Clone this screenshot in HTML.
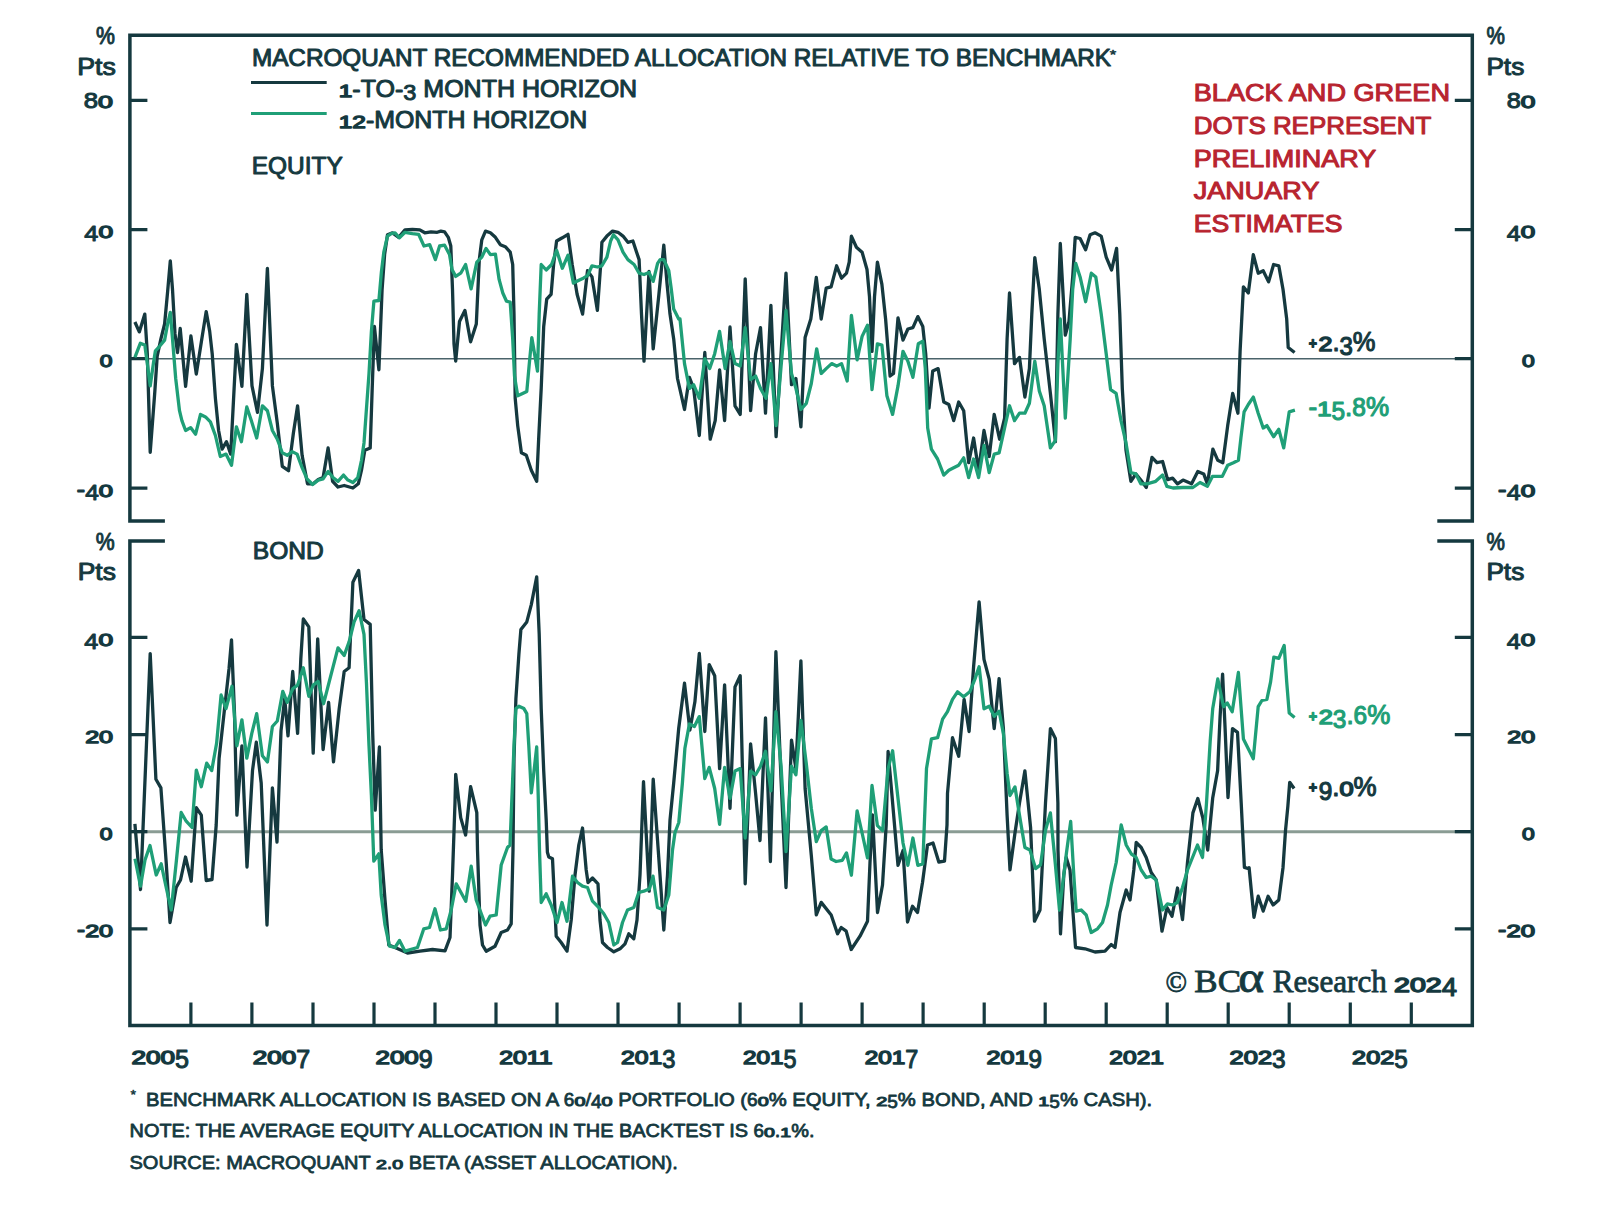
<!DOCTYPE html>
<html lang="en"><head><meta charset="utf-8"><title>MacroQuant Recommended Allocation Relative To Benchmark</title>
<style>
html,body{margin:0;padding:0;background:#fff;}
body{width:1600px;height:1211px;overflow:hidden;}
svg{display:block;}
text{white-space:pre;}
</style></head>
<body>
<svg width="1600" height="1211" viewBox="0 0 1600 1211">
<rect width="1600" height="1211" fill="#ffffff"/>
<path d="M129.9 358.8H1472.3" stroke="#4a636a" stroke-width="1.6"/>
<path d="M129.9 831.7H1472.3" stroke="#8a9c94" stroke-width="3"/>
<g fill="none" stroke="#15393f" stroke-width="3.5" stroke-linecap="butt" stroke-linejoin="miter">
<path d="M164.9 520.9 H129.9 V35.2 H1472.3 V520.9 H1437.3"/>
<path d="M164.9 541.0 H129.9 V1025.6 H1472.3 V541.0 H1437.3"/>
</g>
<g stroke="#15393f" stroke-width="3.2">
<path d="M129.9 100.3h17.5M1472.3 100.3h-17.5"/>
<path d="M129.9 229.6h17.5M1472.3 229.6h-17.5"/>
<path d="M129.9 358.7h17.5M1472.3 358.7h-17.5"/>
<path d="M129.9 488.2h17.5M1472.3 488.2h-17.5"/>
<path d="M129.9 637.4h17.5M1472.3 637.4h-17.5"/>
<path d="M129.9 734.6h17.5M1472.3 734.6h-17.5"/>
<path d="M129.9 831.7h17.5M1472.3 831.7h-17.5"/>
<path d="M129.9 928.8h17.5M1472.3 928.8h-17.5"/>
<path d="M190.9 1002.5V1025.6"/>
<path d="M251.9 1002.5V1025.6"/>
<path d="M313.0 1002.5V1025.6"/>
<path d="M374.0 1002.5V1025.6"/>
<path d="M435.0 1002.5V1025.6"/>
<path d="M496.0 1002.5V1025.6"/>
<path d="M557.0 1002.5V1025.6"/>
<path d="M618.0 1002.5V1025.6"/>
<path d="M679.1 1002.5V1025.6"/>
<path d="M740.1 1002.5V1025.6"/>
<path d="M801.1 1002.5V1025.6"/>
<path d="M862.1 1002.5V1025.6"/>
<path d="M923.1 1002.5V1025.6"/>
<path d="M984.2 1002.5V1025.6"/>
<path d="M1045.2 1002.5V1025.6"/>
<path d="M1106.2 1002.5V1025.6"/>
<path d="M1167.2 1002.5V1025.6"/>
<path d="M1228.2 1002.5V1025.6"/>
<path d="M1289.2 1002.5V1025.6"/>
<path d="M1350.3 1002.5V1025.6"/>
<path d="M1411.3 1002.5V1025.6"/>
</g>
<path d="M251 82.5H326.7" stroke="#15393f" stroke-width="3"/>
<path d="M251 113.6H326.7" stroke="#1f9f77" stroke-width="3"/>
<path d="M134.9 322.0 L139.3 331.9 L144.8 314.1 L147.3 353.7 L150.2 452.3 L154.7 393.4 L157.2 356.2 L160.9 338.9 L164.6 324.0 L167.6 291.8 L170.3 260.8 L172.5 289.3 L175.0 333.9 L177.5 352.5 L180.2 328.5 L185.6 386.4 L190.9 335.9 L196.3 374.0 L201.8 338.9 L206.2 311.6 L209.7 331.4 L212.2 353.7 L215.4 398.3 L218.6 430.5 L222.1 449.1 L226.5 441.7 L230.7 454.1 L236.4 344.3 L241.9 386.4 L246.8 294.3 L252.0 385.9 L257.5 412.4 L262.4 368.6 L267.4 268.3 L272.4 385.9 L277.3 423.1 L282.3 466.4 L288.5 470.7 L293.4 433.0 L297.6 405.8 L302.1 455.3 L307.5 483.8 L313.2 483.8 L318.2 479.6 L323.1 477.6 L328.1 447.9 L332.6 481.3 L338.0 487.0 L344.2 485.5 L352.9 488.0 L358.3 483.8 L361.5 470.2 L364.8 450.3 L370.2 447.9 L372.2 388.4 L374.4 326.5 L378.9 369.8 L382.1 289.3 L384.6 254.6 L387.5 234.8 L392.5 232.8 L398.7 237.3 L405.0 229.9 L412.4 229.4 L419.8 229.9 L424.8 232.8 L431.0 231.8 L437.2 232.3 L440.9 231.1 L444.6 231.8 L448.3 237.3 L450.8 246.0 L452.5 289.3 L454.0 343.8 L455.7 361.2 L459.5 321.5 L464.9 310.4 L470.6 341.8 L476.3 324.0 L479.3 259.6 L481.8 239.8 L485.5 231.1 L490.4 232.8 L495.4 237.3 L500.3 244.7 L505.3 246.7 L510.2 252.2 L512.7 264.5 L514.0 314.1 L515.2 398.3 L517.7 425.6 L521.4 452.8 L526.3 455.3 L531.3 470.2 L536.7 481.3 L538.7 438.0 L541.2 388.4 L543.7 326.5 L546.7 299.2 L551.1 294.3 L553.6 264.5 L556.6 241.0 L562.3 237.8 L568.0 234.3 L572.2 264.5 L577.1 294.3 L582.6 314.1 L587.5 270.7 L592.0 276.9 L597.4 310.4 L600.7 264.5 L601.9 242.3 L606.9 236.1 L612.6 231.1 L618.0 232.3 L623.0 236.1 L627.9 242.3 L632.9 241.0 L636.6 252.2 L639.1 259.6 L641.5 314.1 L644.0 361.2 L649.0 271.5 L653.2 348.8 L658.9 294.3 L663.8 245.2 L667.1 284.4 L670.0 314.1 L673.7 338.9 L677.5 378.5 L684.5 409.5 L689.4 377.3 L693.6 388.4 L699.3 435.5 L704.8 352.5 L710.2 439.2 L715.2 420.6 L719.6 369.8 L724.6 420.6 L730.0 327.0 L735.0 405.8 L740.2 414.4 L745.2 278.9 L750.6 410.7 L755.6 353.7 L760.5 327.7 L765.5 413.2 L770.9 305.4 L776.1 436.7 L781.1 353.7 L786.0 273.2 L791.5 384.7 L795.9 378.5 L800.9 426.8 L805.1 337.6 L810.8 319.0 L816.3 277.4 L821.2 319.0 L826.2 288.1 L831.1 286.8 L836.6 265.8 L841.5 278.2 L846.5 273.2 L849.2 262.1 L851.4 236.1 L856.4 247.2 L862.1 252.2 L867.0 269.5 L869.5 296.8 L872.0 351.3 L874.5 296.8 L877.4 262.1 L881.9 284.4 L885.6 319.0 L890.1 376.0 L893.5 373.5 L898.0 317.8 L903.0 340.1 L907.9 329.0 L912.9 327.7 L917.8 316.6 L922.8 326.5 L925.7 353.7 L929.0 408.2 L932.7 371.1 L938.1 368.6 L943.8 402.0 L948.8 404.5 L953.7 420.6 L958.7 402.0 L963.7 410.7 L968.7 462.7 L973.6 438.0 L978.6 470.2 L984.0 430.5 L989.2 456.5 L994.2 414.4 L999.6 439.2 L1004.6 418.1 L1007.1 338.9 L1009.5 293.0 L1014.5 363.6 L1019.5 357.4 L1024.9 397.1 L1029.4 368.6 L1031.8 314.1 L1034.8 257.6 L1039.3 289.3 L1044.2 338.9 L1050.4 393.4 L1055.4 441.7 L1057.9 314.1 L1060.3 243.5 L1065.3 335.1 L1069.0 321.5 L1072.7 276.9 L1075.2 237.3 L1080.1 238.5 L1085.6 249.7 L1090.1 234.8 L1095.0 232.8 L1101.2 236.1 L1106.2 257.1 L1111.6 270.0 L1116.6 248.4 L1119.8 314.1 L1122.3 388.4 L1126.0 450.3 L1130.9 481.3 L1135.9 473.9 L1140.8 480.1 L1146.3 487.5 L1152.0 457.3 L1156.9 462.7 L1162.6 461.5 L1167.6 479.6 L1172.6 478.1 L1177.5 483.8 L1183.0 480.1 L1191.6 483.8 L1197.8 471.4 L1203.7 473.9 L1207.4 483.8 L1212.9 449.1 L1217.8 460.3 L1222.8 462.7 L1227.7 425.6 L1232.7 393.4 L1237.9 413.2 L1240.1 351.3 L1243.4 286.8 L1248.3 293.0 L1253.3 254.6 L1258.2 273.2 L1263.2 270.7 L1268.6 281.9 L1273.6 264.5 L1278.8 265.8 L1283.0 289.3 L1286.7 319.0 L1288.2 347.5 L1294.6 352.5" fill="none" stroke="#15393f" stroke-width="3.3" stroke-linejoin="round" stroke-linecap="butt"/>
<path d="M134.9 357.4 L140.3 343.3 L144.8 345.1 L147.3 363.6 L150.2 385.9 L153.4 363.6 L155.4 350.8 L159.6 346.3 L164.6 340.1 L167.6 324.0 L170.3 312.4 L172.5 338.9 L175.7 378.5 L179.5 410.7 L181.9 420.6 L185.6 430.5 L190.6 427.6 L195.6 434.2 L200.5 414.4 L205.5 416.9 L210.4 421.9 L215.4 435.5 L220.3 456.5 L226.0 454.1 L231.5 465.2 L236.4 426.8 L241.4 441.7 L246.8 407.0 L251.3 420.6 L256.7 438.0 L262.4 405.8 L267.4 410.7 L272.4 430.5 L277.3 439.2 L282.3 452.8 L287.2 455.3 L292.2 451.6 L297.1 454.1 L302.1 467.7 L307.0 478.8 L312.7 484.5 L318.2 480.1 L323.1 478.8 L328.1 471.4 L333.0 477.6 L338.0 481.3 L343.5 475.1 L347.9 480.1 L352.9 482.5 L357.8 477.6 L361.5 460.3 L364.0 442.9 L366.5 408.2 L369.0 373.5 L371.4 331.4 L373.9 301.2 L378.9 300.5 L381.4 272.0 L383.8 252.2 L387.5 236.1 L391.3 233.6 L395.0 232.8 L399.4 237.8 L405.0 232.3 L412.4 233.6 L418.6 234.3 L424.0 246.0 L429.7 244.7 L435.4 259.6 L439.6 246.0 L444.6 245.2 L449.5 254.6 L452.0 269.5 L455.7 276.4 L460.7 273.2 L465.6 264.5 L471.1 288.8 L476.8 262.1 L481.8 257.1 L486.0 248.4 L490.4 254.6 L495.4 254.1 L499.1 279.4 L502.8 293.0 L506.5 301.2 L510.2 302.2 L512.7 338.9 L514.5 376.0 L517.7 395.8 L522.6 393.4 L526.8 391.4 L529.3 363.6 L531.8 337.6 L537.5 371.1 L539.2 314.1 L541.2 264.5 L546.2 270.0 L551.6 264.5 L556.6 250.2 L562.3 268.3 L568.0 255.1 L573.4 283.1 L578.4 280.6 L583.3 278.2 L587.5 275.7 L592.0 265.8 L597.4 267.0 L601.9 265.8 L606.9 257.1 L610.6 241.0 L613.5 234.8 L618.0 239.8 L623.0 252.2 L627.9 259.6 L634.1 264.5 L639.1 273.2 L644.0 274.5 L649.0 272.5 L653.2 281.4 L657.6 263.3 L660.1 259.6 L663.8 259.6 L668.8 270.7 L671.3 289.3 L673.7 309.1 L678.7 319.0 L680.0 319.0 L684.5 363.6 L689.4 388.4 L693.6 384.7 L699.3 398.3 L704.8 358.7 L709.7 368.6 L714.7 353.7 L719.6 331.4 L725.1 368.6 L730.0 341.3 L735.0 363.6 L740.2 366.1 L745.2 327.7 L750.6 379.7 L755.6 376.0 L760.5 388.4 L766.0 398.3 L770.9 363.6 L776.1 425.6 L781.1 366.1 L786.0 310.4 L791.5 373.5 L795.9 388.4 L800.9 409.5 L806.3 403.3 L811.3 383.5 L816.7 348.8 L821.2 373.5 L826.2 368.6 L831.6 363.6 L836.6 366.1 L841.5 363.6 L847.2 381.0 L851.4 315.3 L857.1 359.9 L862.1 336.4 L867.5 325.2 L872.0 389.6 L877.4 343.8 L881.9 345.1 L886.9 395.8 L892.6 414.4 L898.0 385.9 L903.0 351.3 L907.9 361.2 L912.9 377.3 L918.3 343.8 L922.8 341.3 L925.3 368.6 L927.7 428.0 L931.4 449.1 L937.6 459.0 L943.8 475.1 L948.8 470.2 L953.7 467.7 L958.7 465.2 L963.7 457.8 L968.7 477.6 L973.6 459.0 L978.6 477.6 L984.0 445.4 L989.2 472.6 L994.2 454.1 L999.1 452.8 L1004.6 428.0 L1009.5 405.8 L1014.5 420.6 L1019.5 413.2 L1024.9 413.2 L1029.4 403.3 L1034.8 361.2 L1039.3 390.9 L1044.2 405.8 L1050.4 447.9 L1055.4 440.4 L1057.9 363.6 L1060.3 319.0 L1065.3 418.1 L1070.2 338.9 L1072.7 289.3 L1075.7 263.3 L1080.1 276.9 L1085.6 301.7 L1091.3 273.2 L1095.8 276.9 L1101.2 314.1 L1106.2 353.7 L1110.6 389.6 L1116.1 393.4 L1121.0 420.6 L1126.0 442.9 L1130.9 472.6 L1135.9 473.9 L1140.8 483.8 L1147.0 483.8 L1155.7 481.3 L1162.6 475.1 L1166.9 486.3 L1173.0 488.0 L1183.0 487.5 L1192.9 487.5 L1200.0 482.5 L1207.4 486.3 L1212.4 476.4 L1222.3 476.4 L1227.7 465.2 L1233.4 462.7 L1238.4 460.3 L1240.9 438.0 L1244.1 411.9 L1248.3 404.5 L1253.3 397.1 L1258.2 413.2 L1263.2 428.0 L1266.9 425.6 L1273.6 436.7 L1278.8 429.3 L1283.7 447.9 L1289.2 411.9 L1294.9 410.2" fill="none" stroke="#1f9f77" stroke-width="3.3" stroke-linejoin="round" stroke-linecap="butt"/>
<path d="M134.9 823.8 L140.5 889.5 L150.2 653.6 L155.9 779.2 L160.9 787.9 L166.2 862.5 L170.0 922.5 L176.2 887.5 L180.5 880.0 L185.5 857.0 L191.2 881.2 L196.3 807.7 L201.3 815.2 L206.2 880.5 L212.0 879.5 L216.2 825.0 L219.1 758.2 L224.0 713.6 L229.0 669.0 L231.5 639.8 L234.5 713.6 L236.9 815.2 L241.9 745.8 L247.0 867.0 L252.5 770.6 L256.3 742.1 L261.2 783.0 L267.0 925.0 L272.4 787.9 L277.0 842.0 L281.0 730.9 L284.7 698.7 L288.0 735.9 L292.7 671.5 L297.6 733.4 L300.8 659.1 L303.3 619.0 L308.8 626.9 L313.2 753.2 L317.7 638.8 L323.1 749.5 L328.6 702.4 L333.5 761.9 L339.2 708.6 L344.2 671.5 L349.1 667.8 L352.9 582.3 L358.6 570.4 L364.0 619.5 L370.2 624.4 L372.7 733.4 L375.2 810.2 L379.4 747.0 L381.2 850.0 L385.0 900.0 L388.8 945.0 L395.0 947.5 L407.5 953.0 L420.0 951.2 L432.5 949.5 L445.0 950.8 L450.0 937.5 L452.5 875.0 L455.0 802.5 L455.7 774.3 L460.7 817.6 L465.6 835.0 L470.6 786.7 L476.8 812.7 L477.5 850.0 L480.0 925.0 L482.5 945.0 L486.2 951.2 L495.0 946.2 L501.2 932.5 L507.5 930.0 L511.2 923.8 L513.0 850.0 L514.0 758.2 L515.9 698.7 L518.9 654.1 L520.9 629.4 L526.8 621.9 L531.3 604.6 L536.7 576.8 L539.2 634.3 L541.2 708.6 L543.7 770.6 L546.2 820.1 L547.4 852.3 L548.8 857.0 L552.5 858.8 L554.5 900.0 L556.2 936.2 L561.2 942.5 L567.0 951.2 L571.2 920.0 L575.0 875.0 L578.8 845.0 L582.5 828.0 L586.2 870.0 L588.0 882.5 L592.5 878.0 L598.0 883.8 L600.0 920.0 L602.5 942.5 L607.5 947.5 L613.8 951.8 L620.0 948.8 L625.0 943.8 L628.8 933.8 L633.8 938.8 L637.0 920.0 L640.0 875.0 L643.5 781.7 L649.2 891.2 L653.2 779.2 L660.0 875.0 L663.8 930.0 L667.5 875.0 L670.0 820.1 L673.7 783.0 L678.7 728.5 L684.5 683.2 L689.9 730.0 L694.9 701.8 L699.3 653.4 L704.8 731.5 L709.2 664.6 L714.7 675.7 L719.6 768.6 L724.6 684.9 L730.0 808.3 L735.0 686.9 L740.2 675.7 L745.2 883.8 L750.6 743.9 L755.6 793.4 L760.0 840.5 L765.5 717.9 L770.4 861.5 L775.9 651.7 L781.1 781.0 L786.0 887.5 L791.5 740.1 L795.9 768.6 L800.9 660.9 L805.1 788.5 L811.3 855.3 L816.3 914.8 L821.2 902.4 L831.2 915.0 L837.5 933.8 L841.2 927.5 L846.2 931.2 L851.2 949.5 L860.0 936.2 L867.5 921.2 L870.0 862.5 L872.5 815.0 L877.5 912.5 L882.5 885.0 L886.2 825.0 L888.1 751.3 L891.8 793.4 L898.0 865.3 L903.0 850.4 L907.5 922.0 L912.5 906.2 L917.5 912.5 L922.5 882.5 L927.5 845.0 L933.0 843.0 L938.8 862.0 L944.5 861.2 L947.0 825.0 L947.5 793.4 L952.5 737.7 L958.7 756.3 L964.1 699.3 L969.1 731.5 L973.6 666.7 L979.1 601.8 L984.0 659.3 L989.2 679.1 L994.2 728.6 L999.1 678.6 L1003.4 728.6 L1007.1 815.3 L1010.0 869.8 L1015.0 832.7 L1019.5 803.0 L1024.9 770.8 L1030.6 827.7 L1034.5 921.2 L1040.0 910.0 L1045.5 803.0 L1050.4 728.6 L1055.4 738.5 L1057.9 803.0 L1058.0 850.0 L1060.5 933.8 L1063.8 875.0 L1066.2 857.5 L1070.0 870.0 L1073.0 912.5 L1075.5 947.5 L1085.0 948.8 L1095.0 952.0 L1105.0 951.2 L1111.2 944.5 L1115.0 947.5 L1120.0 912.5 L1126.2 890.0 L1130.0 900.0 L1133.8 870.0 L1136.2 842.5 L1141.2 847.5 L1146.2 857.5 L1151.2 872.5 L1156.2 880.0 L1162.0 931.2 L1167.0 907.5 L1172.0 916.2 L1177.5 888.0 L1182.5 919.5 L1187.5 862.5 L1192.9 812.9 L1197.8 798.5 L1202.8 817.8 L1207.7 850.0 L1212.7 798.0 L1217.6 770.8 L1220.1 716.3 L1222.6 674.1 L1225.1 728.6 L1228.0 797.5 L1232.5 728.6 L1237.5 732.4 L1241.2 803.0 L1244.4 867.4 L1248.6 868.6 L1249.1 867.7 L1251.5 892.5 L1254.0 917.3 L1258.2 896.2 L1263.2 911.1 L1268.1 896.2 L1273.1 904.9 L1278.8 899.9 L1283.0 867.7 L1285.5 830.6 L1287.9 805.8 L1289.7 782.3 L1294.1 788.5" fill="none" stroke="#15393f" stroke-width="3.3" stroke-linejoin="round" stroke-linecap="butt"/>
<path d="M135.0 858.8 L140.5 886.2 L145.0 860.0 L150.0 845.5 L156.2 875.0 L161.2 863.8 L166.2 887.5 L171.2 910.0 L176.2 862.5 L181.2 812.5 L186.2 821.2 L192.0 827.5 L196.3 770.1 L201.3 786.7 L206.7 763.1 L211.7 770.6 L216.6 743.3 L221.1 695.0 L226.0 708.6 L232.0 686.3 L236.9 745.8 L241.9 719.8 L246.8 758.2 L251.8 733.4 L256.7 713.6 L262.4 755.7 L267.4 761.9 L272.4 726.5 L277.3 721.0 L282.8 691.3 L287.2 702.4 L292.7 688.8 L297.6 685.1 L303.3 667.8 L308.8 696.3 L313.2 685.1 L318.2 681.4 L323.6 703.7 L330.6 676.4 L338.0 647.9 L344.2 655.4 L349.1 641.8 L354.1 621.9 L359.1 610.8 L364.0 634.3 L366.5 683.9 L369.0 745.8 L371.4 795.3 L373.8 861.2 L378.8 853.8 L381.2 895.0 L385.0 925.0 L389.5 946.2 L395.0 947.5 L399.5 940.5 L405.0 951.2 L417.5 947.5 L423.8 928.8 L429.5 927.5 L435.0 908.8 L440.5 930.0 L446.2 928.8 L451.2 910.0 L456.2 883.8 L465.8 901.2 L471.2 866.2 L476.2 900.0 L485.5 925.0 L490.0 916.2 L496.2 915.0 L501.2 865.0 L507.5 847.5 L510.0 845.0 L511.5 807.7 L514.0 745.8 L515.9 708.6 L518.9 706.2 L523.9 708.6 L526.8 713.6 L528.8 745.8 L531.3 792.9 L533.8 773.0 L536.7 747.0 L538.2 795.3 L539.5 850.0 L541.2 902.5 L546.2 893.8 L551.2 905.0 L557.0 922.5 L562.0 902.5 L567.0 921.2 L572.5 876.2 L577.5 882.5 L582.5 886.2 L587.5 887.5 L592.5 901.2 L598.8 907.5 L603.8 913.8 L608.8 922.5 L613.8 945.0 L617.5 942.5 L622.5 922.5 L627.5 910.0 L633.8 907.5 L638.8 892.5 L643.8 891.2 L649.5 888.8 L653.0 876.2 L657.5 907.5 L663.8 910.0 L668.8 895.0 L672.5 850.0 L675.0 832.5 L678.8 822.5 L682.4 783.0 L684.9 748.3 L689.4 724.0 L694.4 726.5 L699.3 716.6 L704.8 778.5 L709.2 767.4 L714.7 788.5 L719.6 824.4 L724.6 767.4 L730.0 798.4 L735.0 771.1 L740.2 768.6 L745.2 838.0 L750.6 771.1 L755.6 774.8 L760.5 766.2 L765.5 751.3 L770.9 790.9 L775.9 711.7 L781.1 766.2 L786.0 851.6 L791.5 766.2 L795.9 774.8 L800.9 720.3 L806.3 763.7 L811.3 808.3 L816.3 841.7 L821.2 830.6 L826.2 826.9 L831.1 859.1 L836.1 861.5 L842.3 860.3 L846.5 852.9 L851.4 875.2 L857.1 810.8 L862.1 833.0 L867.5 857.8 L872.0 785.5 L877.4 825.6 L882.6 830.6 L888.1 768.6 L892.6 750.8 L898.0 798.4 L903.0 843.0 L907.9 865.3 L912.9 838.0 L917.8 865.3 L922.8 864.0 L926.5 768.6 L931.4 738.9 L937.6 737.7 L942.6 719.1 L947.5 711.7 L952.5 699.3 L957.5 691.8 L963.6 696.8 L969.8 691.8 L974.9 679.1 L979.1 666.7 L984.0 708.8 L989.2 706.3 L994.2 716.3 L999.1 711.3 L1003.4 733.6 L1007.1 773.2 L1010.0 795.5 L1015.0 786.9 L1019.5 815.3 L1024.9 847.5 L1029.9 850.0 L1035.6 868.6 L1040.5 864.9 L1045.5 830.2 L1050.4 812.9 L1055.4 864.9 L1059.5 910.0 L1066.5 852.5 L1070.7 821.5 L1073.8 875.0 L1076.2 911.2 L1081.2 910.0 L1086.2 915.0 L1091.2 932.5 L1097.5 928.8 L1102.5 922.5 L1107.5 905.0 L1111.2 885.0 L1116.2 862.5 L1121.2 825.0 L1126.2 845.0 L1131.2 853.8 L1136.2 857.5 L1141.2 870.0 L1146.2 877.5 L1151.2 876.2 L1156.2 880.0 L1162.5 910.0 L1167.5 903.8 L1172.5 905.0 L1177.5 902.5 L1182.5 887.5 L1187.5 870.0 L1192.5 857.5 L1197.5 845.0 L1202.5 857.5 L1206.5 803.0 L1210.2 741.0 L1212.7 708.8 L1217.8 679.0 L1223.5 706.7 L1227.3 703.0 L1232.2 711.7 L1238.4 672.5 L1243.4 738.9 L1248.3 748.8 L1253.3 758.7 L1258.2 706.7 L1261.9 700.5 L1266.9 699.3 L1270.6 681.9 L1273.8 657.2 L1278.8 658.4 L1284.2 645.5 L1286.7 681.9 L1289.2 712.9 L1294.6 717.4" fill="none" stroke="#1f9f77" stroke-width="3.3" stroke-linejoin="round" stroke-linecap="butt"/>
<text id="l_pct1" transform="translate(114.95 44.30) scale(0.9048 1)" font-family='"Liberation Sans", Arial, sans-serif' font-size="23.50" font-weight="normal" fill="#15393f" text-anchor="end"  stroke="#15393f" stroke-width="0.99" stroke-linejoin="round">%</text>
<text id="l_pts1" transform="translate(115.85 75.20) scale(1.1362 1)" font-family='"Liberation Sans", Arial, sans-serif' font-size="23.50" font-weight="normal" fill="#15393f" text-anchor="end"  stroke="#15393f" stroke-width="0.99" stroke-linejoin="round">Pts</text>
<text id="l_80" transform="translate(112.85 108.30) scale(1.1663 1)" font-family='"Liberation Sans", Arial, sans-serif' font-size="23.50" font-weight="normal" fill="#15393f" text-anchor="end"  stroke="#15393f" stroke-width="0.99" stroke-linejoin="round"><tspan font-size="22.09">8</tspan><tspan font-size="16.92" textLength="12.77" lengthAdjust="spacingAndGlyphs" stroke="#15393f" stroke-width="1.29">0</tspan></text>
<text id="l_40" transform="translate(113.05 238.20) scale(1.1463 1)" font-family='"Liberation Sans", Arial, sans-serif' font-size="23.50" font-weight="normal" fill="#15393f" text-anchor="end"  stroke="#15393f" stroke-width="0.99" stroke-linejoin="round"><tspan dy="3.29" font-size="22.09">4</tspan><tspan dy="-3.29" font-size="16.92" textLength="12.77" lengthAdjust="spacingAndGlyphs" stroke="#15393f" stroke-width="1.29">0</tspan></text>
<text id="l_0" transform="translate(112.35 367.20) scale(0.9958 1)" font-family='"Liberation Sans", Arial, sans-serif' font-size="23.50" font-weight="normal" fill="#15393f" text-anchor="end"  stroke="#15393f" stroke-width="0.99" stroke-linejoin="round"><tspan font-size="16.92" textLength="12.77" lengthAdjust="spacingAndGlyphs" stroke="#15393f" stroke-width="1.29">0</tspan></text>
<text id="l_m40" transform="translate(113.05 496.80) scale(1.1137 1)" font-family='"Liberation Sans", Arial, sans-serif' font-size="23.50" font-weight="normal" fill="#15393f" text-anchor="end"  stroke="#15393f" stroke-width="0.99" stroke-linejoin="round">-<tspan dy="3.29" font-size="22.09">4</tspan><tspan dy="-3.29" font-size="16.92" textLength="12.77" lengthAdjust="spacingAndGlyphs" stroke="#15393f" stroke-width="1.29">0</tspan></text>
<text id="r_pct1" transform="translate(1486.38 44.30) scale(0.8809 1)" font-family='"Liberation Sans", Arial, sans-serif' font-size="23.50" font-weight="normal" fill="#15393f" text-anchor="start"  stroke="#15393f" stroke-width="0.99" stroke-linejoin="round">%</text>
<text id="r_pts1" transform="translate(1486.38 75.00) scale(1.1156 1)" font-family='"Liberation Sans", Arial, sans-serif' font-size="23.50" font-weight="normal" fill="#15393f" text-anchor="start"  stroke="#15393f" stroke-width="0.99" stroke-linejoin="round">Pts</text>
<text id="r_80" transform="translate(1535.35 108.30) scale(1.1463 1)" font-family='"Liberation Sans", Arial, sans-serif' font-size="23.50" font-weight="normal" fill="#15393f" text-anchor="end"  stroke="#15393f" stroke-width="0.99" stroke-linejoin="round"><tspan font-size="22.09">8</tspan><tspan font-size="16.92" textLength="12.77" lengthAdjust="spacingAndGlyphs" stroke="#15393f" stroke-width="1.29">0</tspan></text>
<text id="r_40" transform="translate(1535.15 238.20) scale(1.1303 1)" font-family='"Liberation Sans", Arial, sans-serif' font-size="23.50" font-weight="normal" fill="#15393f" text-anchor="end"  stroke="#15393f" stroke-width="0.99" stroke-linejoin="round"><tspan dy="3.29" font-size="22.09">4</tspan><tspan dy="-3.29" font-size="16.92" textLength="12.77" lengthAdjust="spacingAndGlyphs" stroke="#15393f" stroke-width="1.29">0</tspan></text>
<text id="r_0" transform="translate(1534.75 367.20) scale(0.9958 1)" font-family='"Liberation Sans", Arial, sans-serif' font-size="23.50" font-weight="normal" fill="#15393f" text-anchor="end"  stroke="#15393f" stroke-width="0.99" stroke-linejoin="round"><tspan font-size="16.92" textLength="12.77" lengthAdjust="spacingAndGlyphs" stroke="#15393f" stroke-width="1.29">0</tspan></text>
<text id="r_m40" transform="translate(1535.15 496.80) scale(1.1380 1)" font-family='"Liberation Sans", Arial, sans-serif' font-size="23.50" font-weight="normal" fill="#15393f" text-anchor="end"  stroke="#15393f" stroke-width="0.99" stroke-linejoin="round">-<tspan dy="3.29" font-size="22.09">4</tspan><tspan dy="-3.29" font-size="16.92" textLength="12.77" lengthAdjust="spacingAndGlyphs" stroke="#15393f" stroke-width="1.29">0</tspan></text>
<text id="l_pct2" transform="translate(114.65 549.50) scale(0.9048 1)" font-family='"Liberation Sans", Arial, sans-serif' font-size="23.50" font-weight="normal" fill="#15393f" text-anchor="end"  stroke="#15393f" stroke-width="0.99" stroke-linejoin="round">%</text>
<text id="l_pts2" transform="translate(115.85 579.80) scale(1.1245 1)" font-family='"Liberation Sans", Arial, sans-serif' font-size="23.50" font-weight="normal" fill="#15393f" text-anchor="end"  stroke="#15393f" stroke-width="0.99" stroke-linejoin="round">Pts</text>
<text id="l2_40" transform="translate(113.05 645.70) scale(1.1463 1)" font-family='"Liberation Sans", Arial, sans-serif' font-size="23.50" font-weight="normal" fill="#15393f" text-anchor="end"  stroke="#15393f" stroke-width="0.99" stroke-linejoin="round"><tspan dy="3.29" font-size="22.09">4</tspan><tspan dy="-3.29" font-size="16.92" textLength="12.77" lengthAdjust="spacingAndGlyphs" stroke="#15393f" stroke-width="1.29">0</tspan></text>
<text id="l2_20" transform="translate(113.05 742.80) scale(1.0926 1)" font-family='"Liberation Sans", Arial, sans-serif' font-size="23.50" font-weight="normal" fill="#15393f" text-anchor="end"  stroke="#15393f" stroke-width="0.99" stroke-linejoin="round"><tspan font-size="16.92" textLength="25.55" lengthAdjust="spacingAndGlyphs" stroke="#15393f" stroke-width="1.29">20</tspan></text>
<text id="l2_0" transform="translate(112.35 840.00) scale(0.9958 1)" font-family='"Liberation Sans", Arial, sans-serif' font-size="23.50" font-weight="normal" fill="#15393f" text-anchor="end"  stroke="#15393f" stroke-width="0.99" stroke-linejoin="round"><tspan font-size="16.92" textLength="12.77" lengthAdjust="spacingAndGlyphs" stroke="#15393f" stroke-width="1.29">0</tspan></text>
<text id="l2_m20" transform="translate(113.05 937.00) scale(1.0910 1)" font-family='"Liberation Sans", Arial, sans-serif' font-size="23.50" font-weight="normal" fill="#15393f" text-anchor="end"  stroke="#15393f" stroke-width="0.99" stroke-linejoin="round">-<tspan font-size="16.92" textLength="25.55" lengthAdjust="spacingAndGlyphs" stroke="#15393f" stroke-width="1.29">20</tspan></text>
<text id="r_pct2" transform="translate(1486.38 549.50) scale(0.8809 1)" font-family='"Liberation Sans", Arial, sans-serif' font-size="23.50" font-weight="normal" fill="#15393f" text-anchor="start"  stroke="#15393f" stroke-width="0.99" stroke-linejoin="round">%</text>
<text id="r_pts2" transform="translate(1486.38 579.80) scale(1.1156 1)" font-family='"Liberation Sans", Arial, sans-serif' font-size="23.50" font-weight="normal" fill="#15393f" text-anchor="start"  stroke="#15393f" stroke-width="0.99" stroke-linejoin="round">Pts</text>
<text id="r2_40" transform="translate(1535.15 645.70) scale(1.1303 1)" font-family='"Liberation Sans", Arial, sans-serif' font-size="23.50" font-weight="normal" fill="#15393f" text-anchor="end"  stroke="#15393f" stroke-width="0.99" stroke-linejoin="round"><tspan dy="3.29" font-size="22.09">4</tspan><tspan dy="-3.29" font-size="16.92" textLength="12.77" lengthAdjust="spacingAndGlyphs" stroke="#15393f" stroke-width="1.29">0</tspan></text>
<text id="r2_20" transform="translate(1535.15 742.80) scale(1.0926 1)" font-family='"Liberation Sans", Arial, sans-serif' font-size="23.50" font-weight="normal" fill="#15393f" text-anchor="end"  stroke="#15393f" stroke-width="0.99" stroke-linejoin="round"><tspan font-size="16.92" textLength="25.55" lengthAdjust="spacingAndGlyphs" stroke="#15393f" stroke-width="1.29">20</tspan></text>
<text id="r2_0" transform="translate(1534.75 840.00) scale(0.9958 1)" font-family='"Liberation Sans", Arial, sans-serif' font-size="23.50" font-weight="normal" fill="#15393f" text-anchor="end"  stroke="#15393f" stroke-width="0.99" stroke-linejoin="round"><tspan font-size="16.92" textLength="12.77" lengthAdjust="spacingAndGlyphs" stroke="#15393f" stroke-width="1.29">0</tspan></text>
<text id="r2_m20" transform="translate(1535.15 937.00) scale(1.1210 1)" font-family='"Liberation Sans", Arial, sans-serif' font-size="23.50" font-weight="normal" fill="#15393f" text-anchor="end"  stroke="#15393f" stroke-width="0.99" stroke-linejoin="round">-<tspan font-size="16.92" textLength="25.55" lengthAdjust="spacingAndGlyphs" stroke="#15393f" stroke-width="1.29">20</tspan></text>
<text id="title" transform="translate(251.89 66.00) scale(1.0435 1)" font-family='"Liberation Sans", Arial, sans-serif' font-size="23.30" font-weight="normal" fill="#15393f" text-anchor="start"  stroke="#15393f" stroke-width="0.98" stroke-linejoin="round">MACROQUANT RECOMMENDED ALLOCATION RELATIVE TO BENCHMARK</text>
<text id="title_star" transform="translate(1109.82 58.50) scale(1.2853 1)" font-family='"Liberation Sans", Arial, sans-serif' font-size="13.00" font-weight="normal" fill="#15393f" text-anchor="start"  stroke="#15393f" stroke-width="0.55" stroke-linejoin="round">*</text>
<text id="leg1" transform="translate(338.79 97.10) scale(1.0737 1)" font-family='"Liberation Sans", Arial, sans-serif' font-size="23.30" font-weight="normal" fill="#15393f" text-anchor="start"  stroke="#15393f" stroke-width="0.98" stroke-linejoin="round"><tspan font-size="16.78" textLength="12.66" lengthAdjust="spacingAndGlyphs" stroke="#15393f" stroke-width="1.28">1</tspan>-TO-<tspan dy="3.26" font-size="21.90">3</tspan><tspan dy="-3.26"> MONTH HORIZON</tspan></text>
<text id="leg2" transform="translate(338.79 128.10) scale(1.0696 1)" font-family='"Liberation Sans", Arial, sans-serif' font-size="23.30" font-weight="normal" fill="#15393f" text-anchor="start"  stroke="#15393f" stroke-width="0.98" stroke-linejoin="round"><tspan font-size="16.78" textLength="25.33" lengthAdjust="spacingAndGlyphs" stroke="#15393f" stroke-width="1.28">12</tspan>-MONTH HORIZON</text>
<text id="equity" transform="translate(251.79 173.60) scale(1.0500 1)" font-family='"Liberation Sans", Arial, sans-serif' font-size="23.30" font-weight="normal" fill="#15393f" text-anchor="start"  stroke="#15393f" stroke-width="0.98" stroke-linejoin="round">EQUITY</text>
<text id="bond" transform="translate(252.79 558.70) scale(1.0559 1)" font-family='"Liberation Sans", Arial, sans-serif' font-size="23.30" font-weight="normal" fill="#15393f" text-anchor="start"  stroke="#15393f" stroke-width="0.98" stroke-linejoin="round">BOND</text>
<text id="red0" transform="translate(1193.73 101.10) scale(1.1118 1)" font-family='"Liberation Sans", Arial, sans-serif' font-size="24.40" font-weight="normal" fill="#b8242f" text-anchor="start"  stroke="#b8242f" stroke-width="1.02" stroke-linejoin="round">BLACK AND GREEN</text>
<text id="red1" transform="translate(1193.73 133.85) scale(1.0629 1)" font-family='"Liberation Sans", Arial, sans-serif' font-size="24.40" font-weight="normal" fill="#b8242f" text-anchor="start"  stroke="#b8242f" stroke-width="1.02" stroke-linejoin="round">DOTS REPRESENT</text>
<text id="red2" transform="translate(1193.73 166.60) scale(1.1078 1)" font-family='"Liberation Sans", Arial, sans-serif' font-size="24.40" font-weight="normal" fill="#b8242f" text-anchor="start"  stroke="#b8242f" stroke-width="1.02" stroke-linejoin="round">PRELIMINARY</text>
<text id="red3" transform="translate(1193.73 199.35) scale(1.1084 1)" font-family='"Liberation Sans", Arial, sans-serif' font-size="24.40" font-weight="normal" fill="#b8242f" text-anchor="start"  stroke="#b8242f" stroke-width="1.02" stroke-linejoin="round">JANUARY</text>
<text id="red4" transform="translate(1193.73 232.10) scale(1.0898 1)" font-family='"Liberation Sans", Arial, sans-serif' font-size="24.40" font-weight="normal" fill="#b8242f" text-anchor="start"  stroke="#b8242f" stroke-width="1.02" stroke-linejoin="round">ESTIMATES</text>
<text id="v1" transform="translate(1309.07 351.20) scale(0.9287 1)" font-family='"Liberation Sans", Arial, sans-serif' font-size="27.50" font-weight="normal" fill="#15393f" text-anchor="start"  stroke="#15393f" stroke-width="1.16" stroke-linejoin="round"><tspan dy="-3.58" letter-spacing="1.8" font-size="14.30" stroke="#15393f" stroke-width="1.96">+</tspan><tspan dy="3.58" font-size="19.80" textLength="14.95" lengthAdjust="spacingAndGlyphs" stroke="#15393f" stroke-width="1.46">2</tspan>.<tspan dy="3.85" font-size="25.85">3</tspan><tspan dy="-3.85">%</tspan></text>
<text id="v2" transform="translate(1308.57 416.30) scale(0.9483 1)" font-family='"Liberation Sans", Arial, sans-serif' font-size="27.50" font-weight="normal" fill="#1f9f77" text-anchor="start"  stroke="#1f9f77" stroke-width="1.16" stroke-linejoin="round">-<tspan font-size="19.80" textLength="14.95" lengthAdjust="spacingAndGlyphs" stroke="#1f9f77" stroke-width="1.46">1</tspan><tspan dy="3.85" font-size="25.85">5</tspan><tspan dy="-3.85">.</tspan><tspan font-size="25.85">8</tspan>%</text>
<text id="v3" transform="translate(1309.07 724.30) scale(0.9456 1)" font-family='"Liberation Sans", Arial, sans-serif' font-size="27.50" font-weight="normal" fill="#1f9f77" text-anchor="start"  stroke="#1f9f77" stroke-width="1.16" stroke-linejoin="round"><tspan dy="-3.58" letter-spacing="1.8" font-size="14.30" stroke="#1f9f77" stroke-width="1.96">+</tspan><tspan dy="3.58" font-size="19.80" textLength="14.95" lengthAdjust="spacingAndGlyphs" stroke="#1f9f77" stroke-width="1.46">2</tspan><tspan dy="3.85" font-size="25.85">3</tspan><tspan dy="-3.85">.</tspan><tspan font-size="25.85">6</tspan>%</text>
<text id="v4" transform="translate(1309.07 796.00) scale(0.9441 1)" font-family='"Liberation Sans", Arial, sans-serif' font-size="27.50" font-weight="normal" fill="#15393f" text-anchor="start"  stroke="#15393f" stroke-width="1.16" stroke-linejoin="round"><tspan dy="-3.58" letter-spacing="1.8" font-size="14.30" stroke="#15393f" stroke-width="1.96">+</tspan><tspan dy="7.43" font-size="25.85">9</tspan><tspan dy="-3.85">.</tspan><tspan font-size="19.80" textLength="14.95" lengthAdjust="spacingAndGlyphs" stroke="#15393f" stroke-width="1.46">0</tspan>%</text>
<text id="y2005" transform="translate(131.62 1064.40) scale(1.0064 1)" font-family='"Liberation Sans", Arial, sans-serif' font-size="26.50" font-weight="normal" fill="#15393f" text-anchor="start"  stroke="#15393f" stroke-width="1.11" stroke-linejoin="round"><tspan font-size="19.08" textLength="43.21" lengthAdjust="spacingAndGlyphs" stroke="#15393f" stroke-width="1.41">200</tspan><tspan dy="3.71" font-size="24.91">5</tspan></text>
<text id="y2007" transform="translate(252.82 1064.40) scale(1.0046 1)" font-family='"Liberation Sans", Arial, sans-serif' font-size="26.50" font-weight="normal" fill="#15393f" text-anchor="start"  stroke="#15393f" stroke-width="1.11" stroke-linejoin="round"><tspan font-size="19.08" textLength="43.21" lengthAdjust="spacingAndGlyphs" stroke="#15393f" stroke-width="1.41">200</tspan><tspan dy="3.71" font-size="24.91">7</tspan></text>
<text id="y2009" transform="translate(375.52 1064.40) scale(1.0011 1)" font-family='"Liberation Sans", Arial, sans-serif' font-size="26.50" font-weight="normal" fill="#15393f" text-anchor="start"  stroke="#15393f" stroke-width="1.11" stroke-linejoin="round"><tspan font-size="19.08" textLength="43.21" lengthAdjust="spacingAndGlyphs" stroke="#15393f" stroke-width="1.41">200</tspan><tspan dy="3.71" font-size="24.91">9</tspan></text>
<text id="y2011" transform="translate(499.22 1064.40) scale(0.9273 1)" font-family='"Liberation Sans", Arial, sans-serif' font-size="26.50" font-weight="normal" fill="#15393f" text-anchor="start"  stroke="#15393f" stroke-width="1.11" stroke-linejoin="round"><tspan font-size="19.08" textLength="57.62" lengthAdjust="spacingAndGlyphs" stroke="#15393f" stroke-width="1.41">2011</tspan></text>
<text id="y2013" transform="translate(621.02 1064.40) scale(0.9521 1)" font-family='"Liberation Sans", Arial, sans-serif' font-size="26.50" font-weight="normal" fill="#15393f" text-anchor="start"  stroke="#15393f" stroke-width="1.11" stroke-linejoin="round"><tspan font-size="19.08" textLength="43.21" lengthAdjust="spacingAndGlyphs" stroke="#15393f" stroke-width="1.41">201</tspan><tspan dy="3.71" font-size="24.91">3</tspan></text>
<text id="y2015" transform="translate(743.02 1064.40) scale(0.9380 1)" font-family='"Liberation Sans", Arial, sans-serif' font-size="26.50" font-weight="normal" fill="#15393f" text-anchor="start"  stroke="#15393f" stroke-width="1.11" stroke-linejoin="round"><tspan font-size="19.08" textLength="43.21" lengthAdjust="spacingAndGlyphs" stroke="#15393f" stroke-width="1.41">201</tspan><tspan dy="3.71" font-size="24.91">5</tspan></text>
<text id="y2017" transform="translate(864.82 1064.40) scale(0.9380 1)" font-family='"Liberation Sans", Arial, sans-serif' font-size="26.50" font-weight="normal" fill="#15393f" text-anchor="start"  stroke="#15393f" stroke-width="1.11" stroke-linejoin="round"><tspan font-size="19.08" textLength="43.21" lengthAdjust="spacingAndGlyphs" stroke="#15393f" stroke-width="1.41">201</tspan><tspan dy="3.71" font-size="24.91">7</tspan></text>
<text id="y2019" transform="translate(986.62 1064.40) scale(0.9713 1)" font-family='"Liberation Sans", Arial, sans-serif' font-size="26.50" font-weight="normal" fill="#15393f" text-anchor="start"  stroke="#15393f" stroke-width="1.11" stroke-linejoin="round"><tspan font-size="19.08" textLength="43.21" lengthAdjust="spacingAndGlyphs" stroke="#15393f" stroke-width="1.41">201</tspan><tspan dy="3.71" font-size="24.91">9</tspan></text>
<text id="y2021" transform="translate(1109.32 1064.40) scale(0.9482 1)" font-family='"Liberation Sans", Arial, sans-serif' font-size="26.50" font-weight="normal" fill="#15393f" text-anchor="start"  stroke="#15393f" stroke-width="1.11" stroke-linejoin="round"><tspan font-size="19.08" textLength="57.62" lengthAdjust="spacingAndGlyphs" stroke="#15393f" stroke-width="1.41">2021</tspan></text>
<text id="y2023" transform="translate(1229.62 1064.40) scale(0.9818 1)" font-family='"Liberation Sans", Arial, sans-serif' font-size="26.50" font-weight="normal" fill="#15393f" text-anchor="start"  stroke="#15393f" stroke-width="1.11" stroke-linejoin="round"><tspan font-size="19.08" textLength="43.21" lengthAdjust="spacingAndGlyphs" stroke="#15393f" stroke-width="1.41">202</tspan><tspan dy="3.71" font-size="24.91">3</tspan></text>
<text id="y2025" transform="translate(1352.12 1064.40) scale(0.9731 1)" font-family='"Liberation Sans", Arial, sans-serif' font-size="26.50" font-weight="normal" fill="#15393f" text-anchor="start"  stroke="#15393f" stroke-width="1.11" stroke-linejoin="round"><tspan font-size="19.08" textLength="43.21" lengthAdjust="spacingAndGlyphs" stroke="#15393f" stroke-width="1.41">202</tspan><tspan dy="3.71" font-size="24.91">5</tspan></text>
<text id="fn1s" transform="translate(130.38 1098.50) scale(1.1704 1)" font-family='"Liberation Sans", Arial, sans-serif' font-size="12.00" font-weight="normal" fill="#15393f" text-anchor="start"  stroke="#15393f" stroke-width="0.50" stroke-linejoin="round">*</text>
<text id="fn1" transform="translate(146.02 1105.60) scale(1.0772 1)" font-family='"Liberation Sans", Arial, sans-serif' font-size="18.80" font-weight="normal" fill="#15393f" text-anchor="start"  stroke="#15393f" stroke-width="0.79" stroke-linejoin="round">BENCHMARK ALLOCATION IS BASED ON A <tspan font-size="17.67">6</tspan><tspan font-size="13.54" textLength="10.22" lengthAdjust="spacingAndGlyphs" stroke="#15393f" stroke-width="1.09">0</tspan>/<tspan dy="2.63" font-size="17.67">4</tspan><tspan dy="-2.63" font-size="13.54" textLength="10.22" lengthAdjust="spacingAndGlyphs" stroke="#15393f" stroke-width="1.09">0</tspan> PORTFOLIO (<tspan font-size="17.67">6</tspan><tspan font-size="13.54" textLength="10.22" lengthAdjust="spacingAndGlyphs" stroke="#15393f" stroke-width="1.09">0</tspan>% EQUITY, <tspan font-size="13.54" textLength="10.22" lengthAdjust="spacingAndGlyphs" stroke="#15393f" stroke-width="1.09">2</tspan><tspan dy="2.63" font-size="17.67">5</tspan><tspan dy="-2.63">% BOND, AND </tspan><tspan font-size="13.54" textLength="10.22" lengthAdjust="spacingAndGlyphs" stroke="#15393f" stroke-width="1.09">1</tspan><tspan dy="2.63" font-size="17.67">5</tspan><tspan dy="-2.63">% CASH).</tspan></text>
<text id="fn2" transform="translate(129.52 1136.70) scale(1.0596 1)" font-family='"Liberation Sans", Arial, sans-serif' font-size="18.80" font-weight="normal" fill="#15393f" text-anchor="start"  stroke="#15393f" stroke-width="0.79" stroke-linejoin="round">NOTE: THE AVERAGE EQUITY ALLOCATION IN THE BACKTEST IS <tspan font-size="17.67">6</tspan><tspan font-size="13.54" textLength="10.22" lengthAdjust="spacingAndGlyphs" stroke="#15393f" stroke-width="1.09">0</tspan>.<tspan font-size="13.54" textLength="10.22" lengthAdjust="spacingAndGlyphs" stroke="#15393f" stroke-width="1.09">1</tspan>%.</text>
<text id="fn3" transform="translate(129.52 1168.60) scale(1.0647 1)" font-family='"Liberation Sans", Arial, sans-serif' font-size="18.80" font-weight="normal" fill="#15393f" text-anchor="start"  stroke="#15393f" stroke-width="0.79" stroke-linejoin="round">SOURCE: MACROQUANT <tspan font-size="13.54" textLength="10.22" lengthAdjust="spacingAndGlyphs" stroke="#15393f" stroke-width="1.09">2</tspan>.<tspan font-size="13.54" textLength="10.22" lengthAdjust="spacingAndGlyphs" stroke="#15393f" stroke-width="1.09">0</tspan> BETA (ASSET ALLOCATION).</text>
<text id="c1" transform="translate(1165.50 992.30) scale(0.9431 1)" font-family='"Liberation Serif", "Times New Roman", serif' font-size="30.00" font-weight="normal" fill="#15393f" text-anchor="start" stroke="#15393f" stroke-width="0.8">©</text>
<text id="c2" transform="translate(1194.30 992.30) scale(1.0941 1)" font-family='"Liberation Serif", "Times New Roman", serif' font-size="32.00" font-weight="normal" fill="#15393f" text-anchor="start" stroke="#15393f" stroke-width="0.8">BC<tspan font-size="45" dx="-2.5">α</tspan></text>
<text id="c3" transform="translate(1272.70 992.30) scale(0.9730 1)" font-family='"Liberation Serif", "Times New Roman", serif' font-size="32.00" font-weight="normal" fill="#15393f" text-anchor="start" stroke="#15393f" stroke-width="0.8">Research</text>
<text id="c4" transform="translate(1394.07 992.30) scale(1.0618 1)" font-family='"Liberation Sans", Arial, sans-serif' font-size="27.50" font-weight="normal" fill="#15393f" text-anchor="start"  stroke="#15393f" stroke-width="1.16" stroke-linejoin="round"><tspan font-size="19.80" textLength="44.84" lengthAdjust="spacingAndGlyphs" stroke="#15393f" stroke-width="1.46">202</tspan><tspan dy="3.85" font-size="25.85">4</tspan></text>
</svg>
</body></html>
